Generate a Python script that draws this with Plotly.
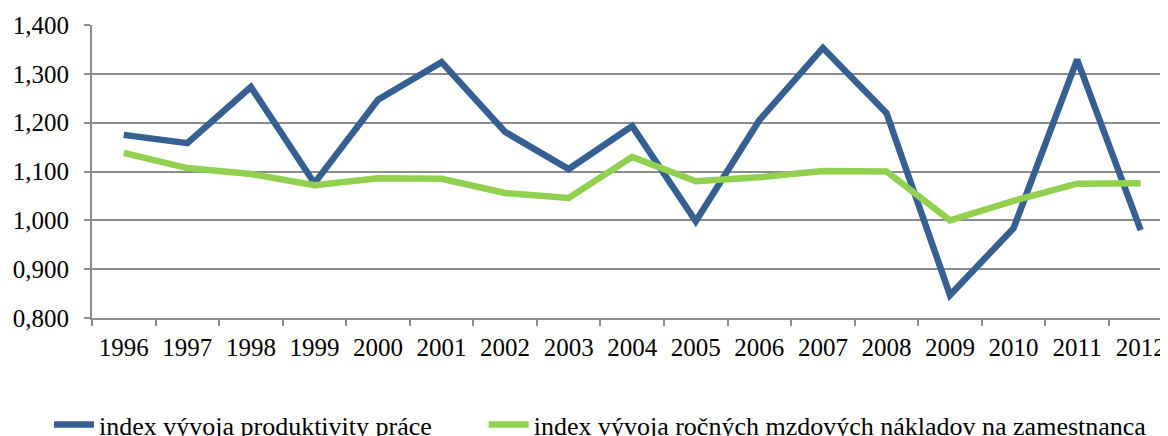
import plotly.graph_objects as go

years = ["1996", "1997", "1998", "1999", "2000", "2001", "2002", "2003", "2004",
         "2005", "2006", "2007", "2008", "2009", "2010", "2011", "2012"]
productivity = [1.175, 1.158, 1.273, 1.076, 1.247, 1.324, 1.181, 1.105, 1.193,
                0.998, 1.205, 1.353, 1.220, 0.847, 0.984, 1.329, 0.980]
wage_costs = [1.138, 1.107, 1.095, 1.072, 1.086, 1.085, 1.056, 1.046, 1.130,
              1.080, 1.088, 1.101, 1.100, 1.000, 1.040, 1.075, 1.076]
y_ticks = [0.8, 0.9, 1.0, 1.1, 1.2, 1.3, 1.4]

name_prod = "index vývoja produktivity práce"
name_wage = "index vývoja ročných mzdových nákladov na zamestnanca"

fig = go.Figure()
fig.add_trace(go.Scatter(x=years, y=productivity, mode="lines", name=name_prod,
                         line=dict(color="#376092", width=6.5), legend="legend"))
fig.add_trace(go.Scatter(x=years, y=wage_costs, mode="lines", name=name_wage,
                         line=dict(color="#92D050", width=6.5), legend="legend2"))

font = "Liberation Serif"
leg_common = dict(orientation="h", yanchor="bottom", y=-0.4437, xanchor="left",
                  font=dict(family=font, size=26, color="black"),
                  itemwidth=40, bgcolor="rgba(0,0,0,0)")
fig.update_layout(
    width=1160, height=440,
    margin=dict(l=84, r=0, t=17, b=130),
    paper_bgcolor="white", plot_bgcolor="white",
    separators=", ",
    font=dict(family=font, size=25, color="black"),
    showlegend=True,
    legend=dict(x=-0.040, **leg_common),
    legend2=dict(x=0.364, **leg_common),
)
fig.update_xaxes(type="category", range=[-0.5, 16.43], showgrid=False,
                 showline=True, linecolor="#8c8c8c", linewidth=2,
                 ticks="outside", tickson="boundaries", ticklen=6, tickwidth=2,
                 tickcolor="#8c8c8c", tickfont=dict(family=font, size=25),
                 ticklabelstandoff=6)
fig.update_yaxes(range=[0.8, 1.4], tickvals=y_ticks, tickformat=".3f",
                 showgrid=True, gridcolor="#8c8c8c", gridwidth=2,
                 showline=True, linecolor="#8c8c8c", linewidth=2,
                 ticks="outside", ticklen=6, tickwidth=2, tickcolor="#8c8c8c",
                 tickfont=dict(family=font, size=25), zeroline=False,
                 ticklabelstandoff=10)

fig.write_html("out.html")
